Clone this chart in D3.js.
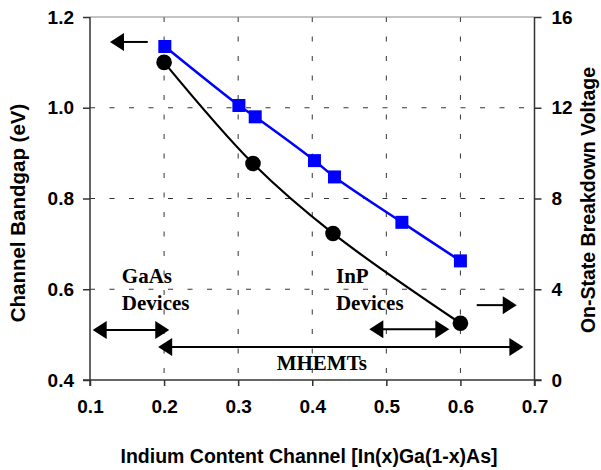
<!DOCTYPE html>
<html><head><meta charset="utf-8">
<script src="https://cdn.jsdelivr.net/npm/d3@7"></script>
<style>
html,body{margin:0;padding:0;background:#fff;}
svg{display:block;}
</style></head>
<body><svg id="c" width="601" height="470"></svg>
<script>
// ---- data ----
const xTicks = [0.1, 0.2, 0.3, 0.4, 0.5, 0.6, 0.7];
const xTickLabels = ["0.1", "0.2", "0.3", "0.4", "0.5", "0.6", "0.7"];
const yLeftTicks = [0.4, 0.6, 0.8, 1.0, 1.2];
const yLeftTickLabels = ["0.4", "0.6", "0.8", "1.0", "1.2"];
const yRightTicks = [0, 4, 8, 12, 16];
const yRightTickLabels = ["0", "4", "8", "12", "16"];

const bandgapX = [0.2, 0.32, 0.428, 0.6];
const bandgapY = [1.10, 0.877, 0.723, 0.525];

const breakdownX = [0.201, 0.301, 0.323, 0.403, 0.43, 0.521, 0.6];
const breakdownY = [14.7, 12.1, 11.6, 9.67, 8.95, 6.95, 5.25];

const xTitle = "Indium Content Channel [In(x)Ga(1-x)As]";
const yLeftTitle = "Channel Bandgap (eV)";
const yRightTitle = "On-State Breakdown Voltage";

// annotation texts (data coords: x, left-axis y)
const notes = [
  {lines: ["GaAs", "Devices"], x: 0.143, y: [0.614, 0.554]},
  {lines: ["InP", "Devices"], x: 0.432, y: [0.614, 0.554]},
  {lines: ["MHEMTs"], x: 0.352, y: [0.422]}
];
// arrows: [x1, x2, y(left axis)]
const arrows = [
  {x1: 0.178, x2: 0.127, y: 1.145, head: "end"},
  {x1: 0.622, x2: 0.676, y: 0.565, head: "end"},
  {x1: 0.1036, x2: 0.207, y: 0.510, head: "both"},
  {x1: 0.192, x2: 0.685, y: 0.473, head: "both"},
  {x1: 0.477, x2: 0.585, y: 0.512, head: "both"}
];

// ---- layout ----
const L = 90, R = 534.5, T = 17, B = 380;
const svg = d3.select("#c");
const x = d3.scaleLinear().domain([0.1, 0.7]).range([L, R]);
const yL = d3.scaleLinear().domain([0.4, 1.2]).range([B, T]);
const yR = d3.scaleLinear().domain([0, 16]).range([B, T]);

const sans = "'Liberation Sans', Arial, sans-serif";
const serif = "'Liberation Serif', 'Times New Roman', serif";

// grid
const g = svg.append("g");
g.selectAll("line.vg").data(xTicks.slice(1, -1)).join("line")
  .attr("x1", d => x(d)).attr("x2", d => x(d)).attr("y1", T).attr("y2", B)
  .attr("stroke", "#333").attr("stroke-width", 1).attr("stroke-dasharray", "5,14.5");
g.selectAll("line.hg").data(yLeftTicks.slice(1, -1)).join("line")
  .attr("x1", L).attr("x2", R).attr("y1", d => yL(d)).attr("y2", d => yL(d))
  .attr("stroke", "#333").attr("stroke-width", 1).attr("stroke-dasharray", "5,14.5");

// top border
svg.append("line").attr("x1", L).attr("x2", R).attr("y1", T).attr("y2", T)
  .attr("stroke", "#888").attr("stroke-width", 1);

// axes
const axL = d3.axisLeft(yL).tickValues(yLeftTicks).tickSize(7).tickFormat((d, i) => yLeftTickLabels[i]);
const axR = d3.axisRight(yR).tickValues(yRightTicks).tickSize(7).tickFormat((d, i) => yRightTickLabels[i]);
const axB = d3.axisBottom(x).tickValues(xTicks).tickSize(6).tickFormat((d, i) => xTickLabels[i]);

function styleAxis(sel) {
  sel.select(".domain").remove();
  sel.selectAll(".tick line").attr("stroke", "#333").attr("stroke-width", 1.5);
  sel.selectAll(".tick text").attr("fill", "#000").style("font-family", sans)
    .style("font-weight", "bold").style("font-size", "19px");
}
const gL = svg.append("g").attr("transform", `translate(${L},0)`).call(axL).call(styleAxis);
gL.selectAll(".tick text").attr("x", -16);
const gR = svg.append("g").attr("transform", `translate(${R},0)`).call(axR).call(styleAxis);
gR.selectAll(".tick text").attr("x", 17);
const gB = svg.append("g").attr("transform", `translate(0,${B})`).call(axB).call(styleAxis);
gB.selectAll(".tick text").attr("y", 20);

// axis lines
svg.append("line").attr("x1", L).attr("x2", L).attr("y1", T).attr("y2", B + 6)
  .attr("stroke", "#333").attr("stroke-width", 1.5);
svg.append("line").attr("x1", R).attr("x2", R).attr("y1", T).attr("y2", B + 6)
  .attr("stroke", "#333").attr("stroke-width", 1.5);
svg.append("line").attr("x1", L - 7).attr("x2", R + 7).attr("y1", B).attr("y2", B)
  .attr("stroke", "#333").attr("stroke-width", 1.5);

// titles
svg.append("text").attr("x", 309).attr("y", 463).attr("text-anchor", "middle")
  .style("font-family", sans).style("font-weight", "bold").style("font-size", "19.5px").text(xTitle);
svg.append("text").attr("transform", `translate(25,${213}) rotate(-90)`).attr("text-anchor", "middle")
  .style("font-family", sans).style("font-weight", "bold").style("font-size", "20.5px").text(yLeftTitle);
svg.append("text").attr("transform", `translate(595,${200}) rotate(-90)`).attr("text-anchor", "middle")
  .style("font-family", sans).style("font-weight", "bold").style("font-size", "19.5px").text(yRightTitle);

// series lines
const band = bandgapX.map((d, i) => [d, bandgapY[i]]);
const bv = breakdownX.map((d, i) => [d, breakdownY[i]]);
const lineL = d3.line().x(d => x(d[0])).y(d => yL(d[1])).curve(d3.curveCatmullRom.alpha(0.5));
const lineR = d3.line().x(d => x(d[0])).y(d => yR(d[1])).curve(d3.curveCatmullRom.alpha(0.5));

svg.append("path").attr("d", lineR(bv)).attr("fill", "none").attr("stroke", "#0000ff").attr("stroke-width", 2.5);
svg.append("path").attr("d", lineL(band)).attr("fill", "none").attr("stroke", "#000").attr("stroke-width", 2.2);

svg.selectAll("rect.sq").data(bv).join("rect")
  .attr("x", d => x(d[0]) - 6.5).attr("y", d => yR(d[1]) - 6.5).attr("width", 13).attr("height", 13)
  .attr("fill", "#0000ff");
svg.selectAll("circle.ci").data(band).join("circle")
  .attr("cx", d => x(d[0])).attr("cy", d => yL(d[1])).attr("r", 7.8).attr("fill", "#000");

// annotations
notes.forEach(n => {
  n.lines.forEach((t, i) => {
    svg.append("text").attr("x", x(n.x)).attr("y", yL(n.y[i]))
      .style("font-family", serif).style("font-weight", "bold").style("font-size", "21px")
      .attr("fill", "#000").text(t);
  });
});

function head(px, py, dir) {
  const len = 14, hw = 9;
  return `M${px},${py} L${px - dir * len},${py - hw} L${px - dir * len},${py + hw} Z`;
}
arrows.forEach(a => {
  const X1 = x(a.x1), X2 = x(a.x2), Y = yL(a.y);
  const d2 = X2 > X1 ? 1 : -1;
  const s1 = (a.head === "both") ? X1 + d2 * 10 : X1;
  const s2 = X2 - d2 * 10;
  svg.append("line").attr("x1", s1).attr("x2", s2).attr("y1", Y).attr("y2", Y)
    .attr("stroke", "#000").attr("stroke-width", 2);
  svg.append("path").attr("d", head(X2, Y, d2)).attr("fill", "#000");
  if (a.head === "both") svg.append("path").attr("d", head(X1, Y, -d2)).attr("fill", "#000");
});
</script>
</body></html>
